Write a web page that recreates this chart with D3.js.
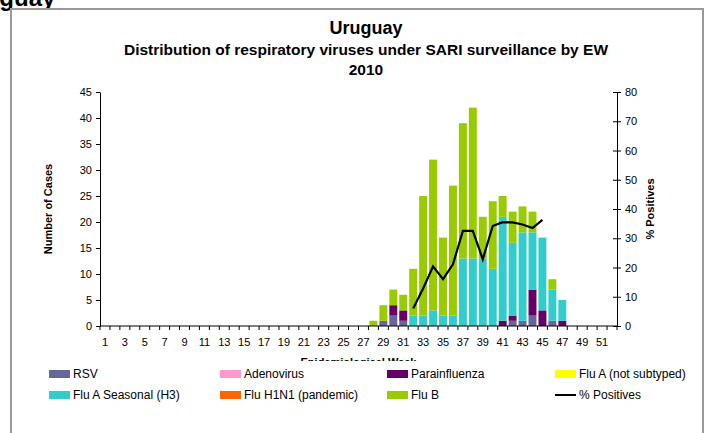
<!DOCTYPE html>
<html>
<head>
<meta charset="utf-8">
<script src="https://cdn.jsdelivr.net/npm/d3@7"></script>
<style>
  body { margin: 0; background: #fff; }
  text { font-family: "Liberation Sans", Arial, sans-serif; fill: #000; }
</style>
</head>
<body>
<svg id="chart"></svg>
<script>
var weeks = d3.range(1, 53)
var keys = ["RSV", "Adenovirus", "Parainfluenza", "Flu A (not subtyped)", "Flu A Seasonal (H3)", "Flu H1N1 (pandemic)", "Flu B"]
var colors = ["#666699", "#ff99cc", "#660066", "#ffff00", "#33cccc", "#ff6600", "#99cc00"]

var rsv      = [0,0,0,0,0,0,0,0,0,0, 0,0,0,0,0,0,0,0,0,0, 0,0,0,0,0,0,0,0,1,2, 1,0,0,0,0,0,0,0,0,0, 0,1,1,2,0,1,0,0,0,0, 0,0]
var adeno    = [0,0,0,0,0,0,0,0,0,0, 0,0,0,0,0,0,0,0,0,0, 0,0,0,0,0,0,0,0,0,0, 0,0,0,0,0,0,0,0,0,0, 0,0,0,0,0,0,0,0,0,0, 0,0]
var para     = [0,0,0,0,0,0,0,0,0,0, 0,0,0,0,0,0,0,0,0,0, 0,0,0,0,0,0,0,0,0,2, 2,0,0,0,0,0,0,0,0,0, 1,1,0,5,3,0,1,0,0,0, 0,0]
var fluANs   = [0,0,0,0,0,0,0,0,0,0, 0,0,0,0,0,0,0,0,0,0, 0,0,0,0,0,0,0,0,0,0, 0,0,0,0,0,0,0,0,0,0, 0,0,0,0,0,0,0,0,0,0, 0,0]
var fluAH3   = [0,0,0,0,0,0,0,0,0,0, 0,0,0,0,0,0,0,0,0,0, 0,0,0,0,0,0,0,0,0,0, 0,2,2,3,2,2,13,13,13,11, 20,14,17,11,14,6,4,0,0,0, 0,0]
var h1n1     = [0,0,0,0,0,0,0,0,0,0, 0,0,0,0,0,0,0,0,0,0, 0,0,0,0,0,0,0,0,0,0, 0,0,0,0,0,0,0,0,0,0, 0,0,0,0,0,0,0,0,0,0, 0,0]
var fluB     = [0,0,0,0,0,0,0,0,0,0, 0,0,0,0,0,0,0,0,0,0, 0,0,0,0,0,0,0,1,3,3, 3,9,23,29,15,25,26,29,8,13, 4,6,5,4,0,2,0,0,0,0, 0,0]

var pctWeeks = [32,33,34,35,36,37,38,39,40,41,42,43,44,45]
var pctPos   = [6,12.8,20.4,16,21.1,32.5,32.5,22.8,34.2,35.5,35.4,34.7,33.5,36.3]

var yTicks = [0,5,10,15,20,25,30,35,40,45]
var y2Ticks = [0,10,20,30,40,50,60,70,80]

var dimensions = {
    width: 706,
    height: 433,
    margin: { top: 92, bottom: 107, left: 100, right: 89 }
}
var plotW = dimensions.width - dimensions.margin.left - dimensions.margin.right
var plotH = dimensions.height - dimensions.margin.top - dimensions.margin.bottom

var series = [rsv, adeno, para, fluANs, fluAH3, h1n1, fluB]
var table = weeks.map(function(w, i){
    var row = { week: w }
    keys.forEach(function(k, j){ row[k] = series[j][i] })
    return row
})
var stacked = d3.stack().keys(keys)(table)

var svg = d3.select("#chart")
            .attr("width", dimensions.width)
            .attr("height", dimensions.height)

// page heading cut off above the frame
svg.append("text")
   .attr("x", -42).attr("y", 6)
   .style("font-size", "24px").style("font-weight", "bold")
   .text("Uruguay")

// outer frame
svg.append("rect").attr("x", 11).attr("y", 9).attr("width", 692).attr("height", 430).attr("fill", "#fff")
svg.append("path")
   .attr("d", "M11,433 V9 H703 V433")
   .attr("fill", "none")
   .attr("stroke", "#999")
   .attr("stroke-width", 2)

svg.append("text").attr("x", 366).attr("y", 34).attr("text-anchor", "middle")
   .style("font-size", "18px").style("font-weight", "bold").text("Uruguay")
svg.append("text").attr("x", 366).attr("y", 55).attr("text-anchor", "middle")
   .style("font-size", "15.5px").style("font-weight", "bold").text("Distribution of respiratory viruses under SARI surveillance by EW")
svg.append("text").attr("x", 366).attr("y", 75).attr("text-anchor", "middle")
   .style("font-size", "15.5px").style("font-weight", "bold").text("2010")

var xScale = d3.scaleBand()
               .domain(weeks)
               .range([0, plotW])
               .paddingInner(0.2)
               .paddingOuter(0.1)

var yScale = d3.scaleLinear().domain([0, 45]).range([plotH, 0])
var y2Scale = d3.scaleLinear().domain([0, 80]).range([plotH, 0])

var g = svg.append("g")
           .attr("transform", "translate(" + dimensions.margin.left + "," + dimensions.margin.top + ")")

g.selectAll(".layer")
 .data(stacked)
 .enter()
 .append("g")
 .attr("fill", function(d, i){ return colors[i] })
 .selectAll("rect")
 .data(function(d){ return d })
 .enter()
 .append("rect")
 .attr("x", function(d){ return xScale(d.data.week) })
 .attr("y", function(d){ return yScale(d[1]) })
 .attr("width", xScale.bandwidth())
 .attr("height", function(d){ return yScale(d[0]) - yScale(d[1]) })

var line = d3.line()
             .x(function(d){ return xScale(d[0]) + xScale.bandwidth() / 2 })
             .y(function(d){ return y2Scale(d[1]) })
g.append("path")
 .datum(pctWeeks.map(function(w, i){ return [w, pctPos[i]] }))
 .attr("d", line)
 .attr("fill", "none")
 .attr("stroke", "#000")
 .attr("stroke-width", 2.2)

// x axis: ticks at week boundaries, labels on odd weeks
var xAxisG = g.append("g").attr("transform", "translate(0," + plotH + ")")
xAxisG.append("line").attr("x1", 0).attr("x2", plotW).attr("stroke", "#000")
xAxisG.selectAll(".tk")
      .data(d3.range(0, 53))
      .enter().append("line")
      .attr("x1", function(d){ return d * plotW / 52 })
      .attr("x2", function(d){ return d * plotW / 52 })
      .attr("y1", 0).attr("y2", 4)
      .attr("stroke", "#000")
xAxisG.selectAll(".lb")
      .data(weeks.filter(function(w){ return w % 2 === 1 }))
      .enter().append("text")
      .attr("x", function(d){ return xScale(d) + xScale.bandwidth() / 2 })
      .attr("y", 20)
      .attr("text-anchor", "middle")
      .style("font-size", "11px")
      .text(function(d){ return d })

var yAxis = d3.axisLeft(yScale).tickValues(yTicks).tickSize(4).tickSizeOuter(0)
var yG = g.append("g").call(yAxis)
yG.select(".domain").attr("stroke", "#000")
yG.selectAll("text").style("font-size", "11px").attr("x", -8)

var y2Axis = d3.axisRight(y2Scale).tickValues(y2Ticks).tickSize(4).tickSizeOuter(0)
var y2G = g.append("g").attr("transform", "translate(" + plotW + ",0)").call(y2Axis)
y2G.selectAll(".tick line").attr("x1", -4)
y2G.selectAll("text").style("font-size", "11px").attr("x", 8)

svg.append("text")
   .attr("transform", "translate(52," + (dimensions.margin.top + plotH / 2) + ") rotate(-90)")
   .attr("text-anchor", "middle")
   .style("font-size", "11px").style("font-weight", "bold")
   .text("Number of Cases")
svg.append("text")
   .attr("transform", "translate(654," + (dimensions.margin.top + plotH / 2) + ") rotate(-90)")
   .attr("text-anchor", "middle")
   .style("font-size", "11px").style("font-weight", "bold")
   .text("% Positives")

svg.append("text")
   .attr("x", dimensions.margin.left + plotW / 2).attr("y", 366)
   .attr("text-anchor", "middle")
   .style("font-size", "11px").style("font-weight", "bold")
   .text("Epidemiological Week")

// legend box covers lower part of axis title
svg.append("rect").attr("x", 12).attr("y", 361).attr("width", 690).attr("height", 72).attr("fill", "#fff")

var legendX = [49, 220, 387, 555]
var legendY = [374, 395]
var legendItems = keys.concat(["% Positives"])
var leg = svg.selectAll(".leg")
             .data(legendItems)
             .enter().append("g")
             .attr("transform", function(d, i){ return "translate(" + legendX[i % 4] + "," + legendY[Math.floor(i / 4)] + ")" })
leg.each(function(d, i){
    var sel = d3.select(this)
    if (i < keys.length) {
        sel.append("rect").attr("x", 0).attr("y", -4).attr("width", 21).attr("height", 8).attr("fill", colors[i])
    } else {
        sel.append("line").attr("x1", 0).attr("x2", 21).attr("y1", 0).attr("y2", 0).attr("stroke", "#000").attr("stroke-width", 2)
    }
    sel.append("text").attr("x", 24).attr("y", 4).style("font-size", "12px").text(d)
})
</script>
</body>
</html>
